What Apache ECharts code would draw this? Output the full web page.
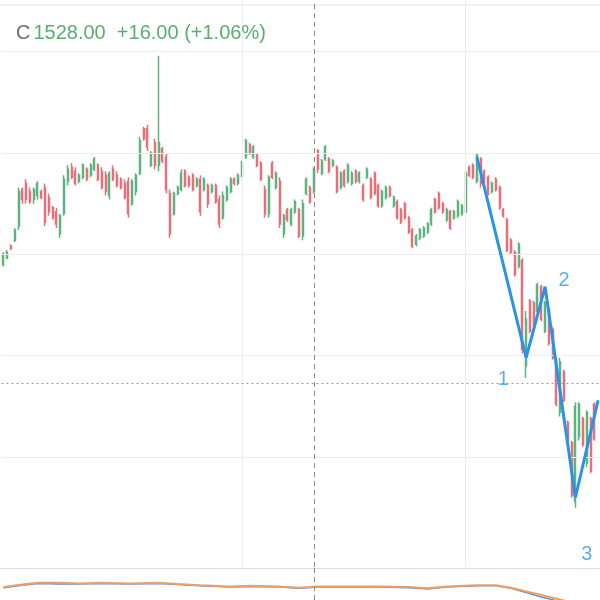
<!DOCTYPE html>
<html><head><meta charset="utf-8">
<script src="https://cdn.jsdelivr.net/npm/echarts@6/dist/echarts.min.js"></script>
<style>html,body{margin:0;padding:0;background:#fff}#c{width:600px;height:600px}</style>
</head><body><div id="c"></div>
<script>
// ---- data ----
const categories = Array.from({length: 158}, (_, i) => 'D' + (i + 1));
const opens = [1645,1648,1654,1657,1664,1682,1685,1681,1677,1679,1681,1683,1678,1673,1671,1660,1670,1686,1693,1691,
1686,1688,1692,1689,1692,1694,1691,1689,1679,1692,1689,1687,1685,1686,1675,1681,1690,1712,1712,1694,
1705,1694,1702,1698,1680,1670,1680,1682,1691,1688,1689,1684,1687,1682,1684,1681,1684,1677,1668,1677,
1681,1687,1685,1689,1698,1704,1698,1699,1695,1682,1670,1695,1683,1686,1660,1672,1665,1671,1672,1659,
1680,1683,1681,1701,1690,1697,1697,1694,1693,1683,1691,1686,1685,1691,1686,1684,1688,1687,1690,1684,
1674,1678,1683,1674,1676,1672,1675,1668,1662,1655,1658,1659,1661,1665,1677,1680,1675,1667,1671,1668,
1669,1670,1671,1693,1694,1686,1697,1691,1688,1681,1687,1683,1672,1667,1657,1651,1644,1647,1595,1627,
1626,1622,1634,1612,1623,1613,1598,1572,1592,1567,1557,1528,1560,1569,1547,1569,1576];
const highs = [1651,1652,1655,1663,1683,1683,1687,1683,1683,1686,1682,1685,1680,1674,1673,1670,1689,1694,1695,1693,
1690,1695,1693,1695,1698,1695,1693,1691,1691,1694,1691,1688,1687,1688,1687,1690,1708,1713,1714,1701,
1707,1748,1703,1700,1682,1681,1684,1692,1692,1689,1690,1688,1689,1688,1685,1685,1685,1679,1681,1684,
1688,1688,1690,1696,1707,1705,1704,1700,1696,1684,1689,1696,1691,1688,1670,1673,1673,1677,1673,1677,
1688,1684,1693,1702,1697,1704,1698,1697,1694,1691,1692,1695,1691,1692,1691,1685,1693,1688,1691,1685,
1682,1684,1684,1679,1677,1673,1676,1669,1663,1660,1663,1664,1666,1673,1678,1681,1676,1673,1672,1672,
1677,1675,1691,1694,1695,1700,1698,1692,1689,1686,1688,1684,1673,1668,1658,1652,1656,1648,1622,1628,
1627,1636,1635,1627,1624,1614,1599,1599,1593,1568,1558,1577,1577,1570,1573,1570,1577];
const lows = [1644,1648,1652,1656,1662,1675,1675,1675,1675,1677,1677,1664,1669,1667,1663,1658,1669,1684,1687,1684,
1685,1687,1686,1688,1691,1686,1682,1679,1677,1686,1683,1682,1677,1668,1674,1679,1689,1706,1701,1693,
1692,1691,1695,1680,1658,1669,1679,1681,1683,1683,1681,1683,1669,1681,1673,1680,1675,1663,1667,1676,
1680,1684,1684,1688,1697,1699,1697,1693,1686,1668,1668,1687,1682,1663,1658,1666,1664,1670,1658,1657,
1679,1675,1680,1690,1689,1696,1690,1693,1680,1682,1683,1685,1684,1685,1685,1676,1687,1677,1679,1673,
1673,1677,1678,1673,1667,1665,1667,1660,1653,1654,1657,1658,1660,1664,1670,1672,1670,1666,1662,1667,
1668,1669,1670,1688,1687,1685,1683,1685,1679,1680,1681,1672,1668,1651,1650,1639,1643,1601,1589,1611,
1614,1621,1617,1611,1605,1598,1575,1570,1577,1557,1530,1525,1558,1555,1545,1542,1558];
const closes = [1650,1651,1653,1662,1681,1677,1677,1676,1682,1685,1678,1666,1671,1668,1665,1669,1687,1692,1688,1685,
1689,1694,1687,1694,1697,1687,1683,1681,1690,1687,1684,1683,1678,1670,1686,1689,1706,1707,1703,1700,
1694,1705,1696,1682,1660,1680,1683,1690,1684,1684,1682,1687,1671,1687,1675,1684,1676,1665,1679,1683,
1687,1685,1689,1695,1706,1700,1703,1694,1687,1670,1688,1688,1690,1665,1669,1667,1672,1676,1659,1675,
1687,1676,1692,1692,1696,1703,1691,1696,1681,1690,1684,1694,1690,1686,1690,1677,1692,1678,1680,1674,
1681,1683,1679,1678,1668,1666,1668,1661,1654,1659,1662,1663,1665,1672,1671,1673,1671,1672,1663,1671,
1676,1674,1690,1689,1688,1699,1685,1686,1680,1685,1682,1673,1669,1652,1651,1640,1655,1603,1618,1612,
1615,1635,1618,1626,1606,1599,1576,1597,1578,1558,1531,1575,1576,1556,1572,1543,1559];
// Elliott wave pivots [bar index, price]
const waveIdx = [125, 138, 143, 151, 157];
const wavePrice = [1698, 1599, 1634, 1530, 1578];
const waveLabels = ['1', '2', '3'];
const waveLabelIdx = [132, 148, 154];
const waveLabelPrice = [1588, 1637, 1502];
// price grid levels & time grid bars
const priceLevels = [1750, 1700, 1650, 1600, 1550];
const timeGridIdx = [63, 122];
const crossIdx = 82, crossPrice = 1586.5;
// lower indicator pane
const indIdx = [0,5,9,15,20,26,33,41,46,52,60,65,73,78,83,91,99,107,112,117,125,130,134,138,142,146,150];
const indOrange = [21,25,28,28,27,28,27,28,26,24,22,23,22,20,22,22,22,21,19,22,24,24,20,14,8,2,-4];
const indBlue = [20,24,27,26,26,27,26,27,25,23,21,22,21,19,21,21,21,20,18,21,23,23,19,12,5,-1,-7];
// header
const hdrLabel = 'C', hdrClose = '1528.00', hdrChg = '+16.00', hdrPct = '(+1.06%)';

const candle = opens.map((o, i) => [o, closes[i], lows[i], highs[i]]);
const pair = (xs, ys) => xs.map((x, i) => [x, ys[i]]);

const chart = echarts.init(document.getElementById('c'), null, {renderer: 'canvas'});
const gridL = 1.5, gridR = -3.8;
chart.setOption({
  animation: false,
  backgroundColor: '#ffffff',
  title: {
    left: 11, top: 18,
    text: '{c|' + hdrLabel + '}{v|' + hdrClose + '  ' + hdrChg + ' ' + hdrPct + '}',
    textStyle: {fontWeight: 'normal', rich: {
      c: {fontFamily: 'Liberation Sans', fontSize: 20, fontWeight: 'normal', color: '#6e6e6e', padding: [0, 3, 0, 0]},
      v: {fontFamily: 'Liberation Sans', fontSize: 20, fontWeight: 'normal', color: '#5aae6e'}
    }}
  },
  grid: [
    {left: gridL, right: gridR, top: 0, bottom: 33},
    {left: gridL, right: gridR, top: 568, bottom: -20}
  ],
  xAxis: [
    {type: 'category', gridIndex: 0, data: categories, boundaryGap: true, show: false},
    {type: 'category', gridIndex: 1, data: categories, boundaryGap: true, show: false}
  ],
  yAxis: [
    {type: 'value', gridIndex: 0, min: 1495.7, max: 1775.5, show: false, splitLine: {show: false}},
    {type: 'value', gridIndex: 1, min: 0, max: 52, show: false, splitLine: {show: false}}
  ],
  graphic: [
    {type: 'line', shape: {x1: 0, y1: 5, x2: 600, y2: 5}, style: {stroke: '#e4e4e4', lineWidth: 1}, z: 0},
    {type: 'line', shape: {x1: 0, y1: 568.5, x2: 600, y2: 568.5}, style: {stroke: '#dcdcdc', lineWidth: 1}, z: 0}
  ],
  series: [
    {
      type: 'line', xAxisIndex: 0, yAxisIndex: 0, data: [], silent: true, z: 1,
      markLine: {
        silent: true, symbol: 'none', label: {show: false}, animation: false,
        lineStyle: {color: '#ececec', width: 1, type: 'solid'},
        data: priceLevels.map(v => ({yAxis: v})).concat(timeGridIdx.map(i => ({xAxis: categories[i]})))
      }
    },
    {
      type: 'line', xAxisIndex: 0, yAxisIndex: 0, data: [], silent: true, z: 2,
      markLine: {
        silent: true, symbol: 'none', label: {show: false}, animation: false,
        data: [
          {xAxis: categories[crossIdx], lineStyle: {color: '#8a8a8a', width: 1, type: [5, 4]}},
          {yAxis: crossPrice, lineStyle: {color: '#9a9a9a', width: 1, type: [2, 3]}}
        ]
      }
    },
    {
      type: 'candlestick', xAxisIndex: 0, yAxisIndex: 0, data: candle, barWidth: 1.5, z: 3,
      itemStyle: {color: '#5cb37f', color0: '#e5707a', borderColor: '#5cb37f', borderColor0: '#e5707a', borderWidth: 1.5}
    },
    {
      type: 'line', xAxisIndex: 0, yAxisIndex: 0, data: pair(waveIdx, wavePrice), z: 5,
      showSymbol: false, lineStyle: {color: '#2b93e4', width: 3}, silent: true
    },
    {
      type: 'scatter', xAxisIndex: 0, yAxisIndex: 0, symbolSize: 0, z: 6, silent: true,
      data: waveLabelIdx.map((x, i) => ({value: [x, waveLabelPrice[i]], name: waveLabels[i]})),
      label: {show: true, position: 'inside', formatter: '{b}', color: '#3a9ae0', fontSize: 20, fontFamily: 'Liberation Sans'}
    },
    {
      type: 'line', xAxisIndex: 1, yAxisIndex: 1, data: pair(indIdx, indBlue), showSymbol: false,
      lineStyle: {color: '#5b8fd0', width: 1.5}, silent: true, z: 3,
      markLine: {
        silent: true, symbol: 'none', label: {show: false}, animation: false,
        data: [{xAxis: categories[crossIdx], lineStyle: {color: '#8a8a8a', width: 1, type: [5, 4]}}]
      }
    },
    {
      type: 'line', xAxisIndex: 1, yAxisIndex: 1, data: pair(indIdx, indOrange), showSymbol: false,
      lineStyle: {color: '#eea062', width: 2}, silent: true, z: 4
    }
  ]
});
</script></body></html>
